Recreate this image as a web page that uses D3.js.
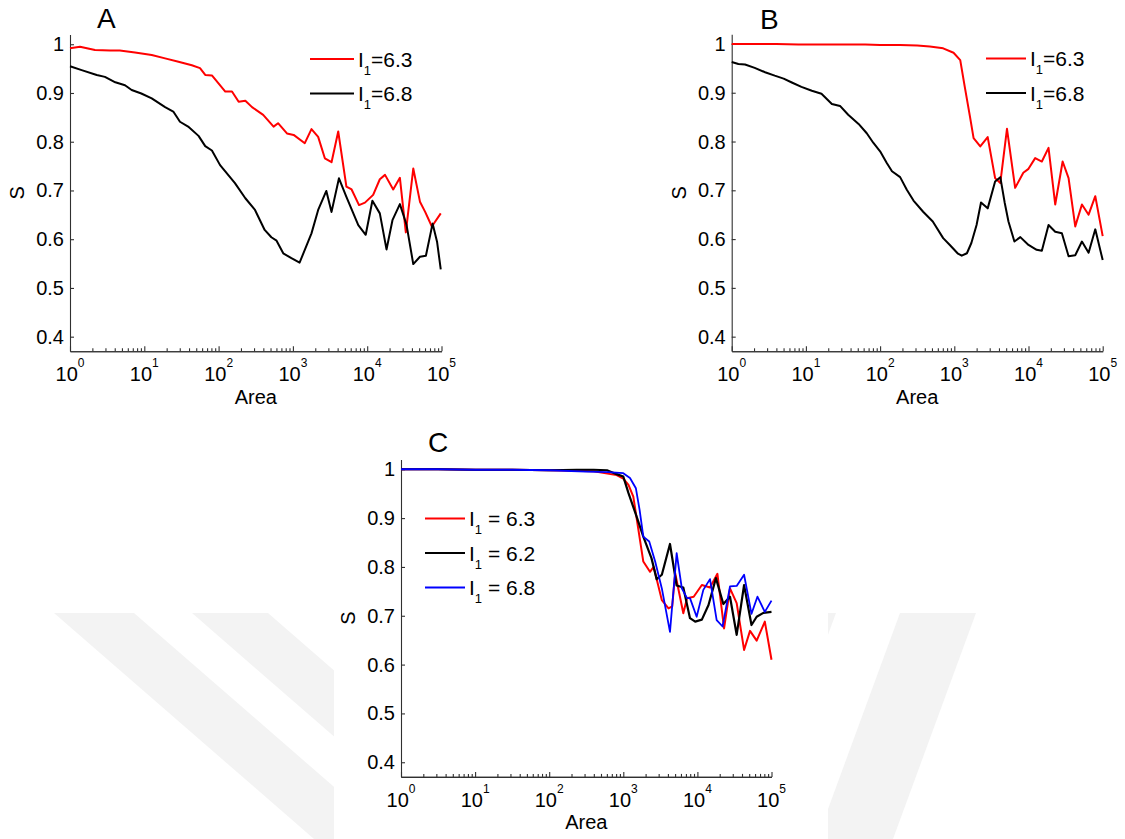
<!DOCTYPE html>
<html>
<head>
<meta charset="utf-8">
<script src="https://cdn.jsdelivr.net/npm/d3@7/dist/d3.min.js"></script>
<style>
  html, body { margin: 0; padding: 0; background: #fff; }
  svg { display: block; }
  text { font-family: "Liberation Sans", Arial, Helvetica, sans-serif; fill: #000; }
</style>
</head>
<body>
<svg id="fig" width="1125" height="839"></svg>
<script>
// ---------------- data ----------------
// x values are log10(Area); y values are S
const xTickExponents = [0, 1, 2, 3, 4, 5];
const sTicks = [0.4, 0.5, 0.6, 0.7, 0.8, 0.9, 1];
const sLabels = ["0.4", "0.5", "0.6", "0.7", "0.8", "0.9", "1"];

// Panel A
const aLog63 = [0, 0.135, 0.336, 0.54, 0.67, 0.875, 1.10, 1.28, 1.46, 1.64, 1.75, 1.82, 1.91, 2.09, 2.18, 2.27, 2.36, 2.45, 2.60, 2.74, 2.80, 2.92, 3.01, 3.16, 3.25, 3.34, 3.43, 3.52, 3.61, 3.72, 3.79, 3.89, 3.97, 4.08, 4.17, 4.24, 4.35, 4.44, 4.52, 4.62, 4.71, 4.78, 4.87, 4.99];
const aS63 = [0.992, 0.995, 0.988, 0.987, 0.987, 0.983, 0.978, 0.971, 0.964, 0.957, 0.951, 0.937, 0.936, 0.903, 0.903, 0.882, 0.884, 0.871, 0.855, 0.831, 0.838, 0.817, 0.814, 0.797, 0.826, 0.810, 0.766, 0.758, 0.821, 0.708, 0.702, 0.670, 0.675, 0.691, 0.723, 0.732, 0.702, 0.726, 0.614, 0.745, 0.677, 0.656, 0.626, 0.653];
const aLog68 = [0, 0.157, 0.36, 0.47, 0.61, 0.74, 0.83, 0.96, 1.10, 1.28, 1.39, 1.48, 1.59, 1.73, 1.82, 1.91, 2.02, 2.22, 2.36, 2.49, 2.62, 2.71, 2.78, 2.87, 2.98, 3.09, 3.16, 3.25, 3.34, 3.45, 3.52, 3.62, 3.72, 3.88, 3.98, 4.07, 4.17, 4.26, 4.34, 4.44, 4.53, 4.62, 4.71, 4.79, 4.88, 4.94, 4.99];
const aS68 = [0.955, 0.947, 0.937, 0.933, 0.922, 0.916, 0.906, 0.899, 0.889, 0.871, 0.862, 0.841, 0.831, 0.812, 0.791, 0.782, 0.752, 0.715, 0.684, 0.660, 0.619, 0.604, 0.597, 0.571, 0.561, 0.552, 0.578, 0.612, 0.660, 0.699, 0.656, 0.725, 0.687, 0.629, 0.609, 0.679, 0.653, 0.579, 0.639, 0.672, 0.629, 0.549, 0.564, 0.566, 0.632, 0.595, 0.538];

// Panel B
const bLog63 = [0, 0.3, 0.6, 0.9, 1.2, 1.5, 1.8, 2.0, 2.27, 2.5, 2.67, 2.85, 2.99, 3.08, 3.14, 3.21, 3.26, 3.35, 3.45, 3.55, 3.62, 3.71, 3.82, 3.93, 4.00, 4.09, 4.18, 4.27, 4.36, 4.46, 4.54, 4.63, 4.72, 4.81, 4.90, 5.00];
const bS63 = [1.0, 1.0, 1.0, 0.999, 0.999, 0.999, 0.999, 0.998, 0.998, 0.997, 0.995, 0.991, 0.982, 0.967, 0.913, 0.852, 0.807, 0.790, 0.809, 0.725, 0.715, 0.826, 0.705, 0.736, 0.744, 0.766, 0.759, 0.787, 0.671, 0.759, 0.725, 0.626, 0.671, 0.650, 0.688, 0.606];
const bLog68 = [0, 0.09, 0.18, 0.31, 0.45, 0.58, 0.70, 0.81, 0.94, 1.08, 1.21, 1.35, 1.46, 1.57, 1.71, 1.82, 1.91, 2.00, 2.09, 2.16, 2.27, 2.36, 2.45, 2.58, 2.71, 2.85, 2.94, 3.05, 3.10, 3.17, 3.23, 3.30, 3.36, 3.45, 3.55, 3.62, 3.68, 3.73, 3.81, 3.89, 4.00, 4.11, 4.18, 4.27, 4.36, 4.45, 4.54, 4.63, 4.72, 4.81, 4.90, 5.00];
const bS68 = [0.963, 0.959, 0.958, 0.951, 0.942, 0.935, 0.929, 0.921, 0.912, 0.904, 0.898, 0.877, 0.873, 0.855, 0.836, 0.817, 0.797, 0.780, 0.756, 0.739, 0.727, 0.701, 0.679, 0.656, 0.636, 0.602, 0.588, 0.570, 0.566, 0.571, 0.592, 0.629, 0.675, 0.663, 0.718, 0.727, 0.674, 0.636, 0.595, 0.604, 0.588, 0.578, 0.576, 0.629, 0.615, 0.612, 0.565, 0.567, 0.595, 0.572, 0.620, 0.557];

// Panel C
const cLog63 = [0, 0.5, 1.0, 1.5, 2.0, 2.3, 2.6, 2.91, 3.0, 3.07, 3.135, 3.20, 3.27, 3.36, 3.41, 3.52, 3.61, 3.66, 3.70, 3.81, 3.86, 3.95, 4.06, 4.17, 4.27, 4.36, 4.44, 4.53, 4.63, 4.71, 4.80, 4.91, 5.0];
const cS63 = [1.0, 1.0, 0.999, 0.999, 0.998, 0.997, 0.996, 0.988, 0.981, 0.968, 0.944, 0.880, 0.811, 0.790, 0.800, 0.732, 0.715, 0.719, 0.787, 0.705, 0.736, 0.739, 0.763, 0.758, 0.786, 0.674, 0.756, 0.726, 0.630, 0.669, 0.649, 0.688, 0.610];
const cLog62 = [0, 0.5, 1.0, 1.5, 2.0, 2.37, 2.6, 2.78, 2.91, 3.0, 3.07, 3.18, 3.27, 3.38, 3.45, 3.52, 3.63, 3.72, 3.81, 3.90, 3.97, 4.06, 4.15, 4.25, 4.35, 4.44, 4.53, 4.63, 4.73, 4.80, 4.89, 5.0];
const cS62 = [1.0, 1.0, 0.999, 0.999, 0.998, 0.999, 0.999, 0.998, 0.990, 0.985, 0.951, 0.903, 0.862, 0.818, 0.775, 0.784, 0.847, 0.762, 0.758, 0.695, 0.688, 0.692, 0.722, 0.777, 0.724, 0.739, 0.661, 0.763, 0.681, 0.698, 0.706, 0.708];
const cLog68 = [0, 0.5, 1.0, 1.5, 2.0, 2.5, 2.8, 3.0, 3.09, 3.17, 3.22, 3.27, 3.35, 3.43, 3.52, 3.63, 3.72, 3.79, 3.86, 3.90, 3.99, 4.08, 4.17, 4.26, 4.34, 4.44, 4.53, 4.63, 4.73, 4.81, 4.91, 5.0];
const cS68 = [1.0, 1.0, 0.999, 0.999, 0.998, 0.995, 0.994, 0.992, 0.982, 0.961, 0.917, 0.862, 0.852, 0.811, 0.756, 0.667, 0.828, 0.756, 0.736, 0.736, 0.698, 0.753, 0.775, 0.691, 0.678, 0.760, 0.761, 0.784, 0.704, 0.739, 0.708, 0.731];

// ---------------- layout ----------------
const svg = d3.select("#fig");
svg.append("rect").attr("width", 1125).attr("height", 839).attr("fill", "#fff");

// faint background bands
const bands = [
  [[54, 613], [134, 613], [394, 839], [314, 839]],
  [[192, 613], [268, 613], [528, 839], [452, 839]],
  [[900, 613], [976, 613], [893, 839], [817, 839]],
  [[760, 613], [836, 613], [753, 839], [677, 839]]
];
svg.append("g").selectAll("path").data(bands).join("path")
  .attr("d", d => "M" + d.join("L") + "Z")
  .attr("fill", "#f3f3f3");
// white backing of the lower panel
svg.append("rect").attr("x", 334).attr("y", 420).attr("width", 494).attr("height", 419).attr("fill", "#fff");

const panels = [
  {
    letter: "A", letterPos: [97, 28],
    xr: [70, 441.5], yr: [351.3, 34.5],
    series: [
      { log: aLog63, s: aS63, color: "#ff0000", w: 2 },
      { log: aLog68, s: aS68, color: "#000000", w: 2 }
    ],
    legend: { x: 310, y: 59, dy: 34.5, len: 44, labels: ["=6.3", "=6.8"], colors: ["#ff0000", "#000000"] }
  },
  {
    letter: "B", letterPos: [760, 29],
    xr: [731.7, 1102.7], yr: [351.3, 34.2],
    series: [
      { log: bLog63, s: bS63, color: "#ff0000", w: 2 },
      { log: bLog68, s: bS68, color: "#000000", w: 2 }
    ],
    legend: { x: 986, y: 58.5, dy: 34.5, len: 40, labels: ["=6.3", "=6.8"], colors: ["#ff0000", "#000000"] }
  },
  {
    letter: "C", letterPos: [428, 452],
    xr: [401, 771.5], yr: [776.9, 459.5],
    series: [
      { log: cLog63, s: cS63, color: "#ff0000", w: 2 },
      { log: cLog62, s: cS62, color: "#000000", w: 2.2 },
      { log: cLog68, s: cS68, color: "#0000ff", w: 1.8 }
    ],
    legend: { x: 425, y: 518.5, dy: 34.5, len: 40, labels: [" = 6.3", " = 6.2", " = 6.8"], colors: ["#ff0000", "#000000", "#0000ff"] }
  }
];

const axisColor = "#303030";

panels.forEach(p => {
  const x = d3.scaleLog().domain([1, 1e5]).range(p.xr);
  const y = d3.scaleLinear().domain([0.37, 1.02]).range(p.yr);
  const g = svg.append("g");

  // minor ticks along the log axis
  const minor = [];
  for (let e = 0; e < 5; e++) for (let m = 2; m <= 9; m++) minor.push(m * Math.pow(10, e));

  const xAxisMinor = d3.axisBottom(x).tickValues(minor).tickSize(-3).tickSizeOuter(0).tickFormat("");
  const xAxisMajor = d3.axisBottom(x).tickValues(xTickExponents.map(e => Math.pow(10, e))).tickSize(-5).tickSizeOuter(0).tickFormat("");
  const yAxis = d3.axisLeft(y).tickValues(sTicks).tickSize(-4).tickSizeOuter(0).tickFormat("");

  [xAxisMinor, xAxisMajor].forEach(ax => {
    g.append("g").attr("transform", `translate(0,${p.yr[0]})`).call(ax)
      .call(s => s.selectAll("path,line").attr("stroke", axisColor).attr("stroke-width", 1.1));
  });
  g.append("g").attr("transform", `translate(${p.xr[0]},0)`).call(yAxis)
    .call(s => s.selectAll("path,line").attr("stroke", axisColor).attr("stroke-width", 1.1));

  // y tick labels
  g.append("g").selectAll("text").data(sTicks).join("text")
    .attr("x", p.xr[0] - 6).attr("y", d => y(d) + 7)
    .attr("text-anchor", "end").attr("font-size", 20)
    .text((d, i) => sLabels[i]);

  // x tick labels: 10^n
  const xl = g.append("g").selectAll("text").data(xTickExponents).join("text")
    .attr("x", d => x(Math.pow(10, d))).attr("y", p.yr[0] + 30)
    .attr("text-anchor", "middle").attr("font-size", 20);
  xl.append("tspan").text("10");
  xl.append("tspan").attr("font-size", 12).attr("dy", -14).text(d => d);

  // axis titles
  g.append("text").attr("x", (p.xr[0] + p.xr[1]) / 2).attr("y", p.yr[0] + 52.5)
    .attr("text-anchor", "middle").attr("font-size", 20).text("Area");
  g.append("text")
    .attr("transform", `translate(${p.xr[0] - 46},${(p.yr[0] + p.yr[1]) / 2}) rotate(-90)`)
    .attr("text-anchor", "middle").attr("font-size", 20).text("S");

  // panel letter
  g.append("text").attr("x", p.letterPos[0]).attr("y", p.letterPos[1])
    .attr("font-size", 28).text(p.letter);

  // data lines
  const line = d3.line().x(d => x(Math.pow(10, d[0]))).y(d => y(d[1]));
  p.series.forEach(s => {
    g.append("path")
      .datum(s.log.map((v, i) => [v, s.s[i]]))
      .attr("d", line).attr("fill", "none")
      .attr("stroke", s.color).attr("stroke-width", s.w)
      .attr("stroke-linejoin", "round");
  });

  // legend
  const L = p.legend;
  L.labels.forEach((lab, i) => {
    const ly = L.y + i * L.dy;
    g.append("line").attr("x1", L.x).attr("x2", L.x + L.len)
      .attr("y1", ly).attr("y2", ly)
      .attr("stroke", L.colors[i]).attr("stroke-width", 2);
    const t = g.append("text").attr("x", L.x + L.len + 4).attr("y", ly + 7.5).attr("font-size", 21);
    t.append("tspan").text("I");
    t.append("tspan").attr("font-size", 13).attr("dy", 8).text("1");
    t.append("tspan").attr("dy", -8).style("white-space", "pre").text(lab);
  });
});
</script>
</body>
</html>
